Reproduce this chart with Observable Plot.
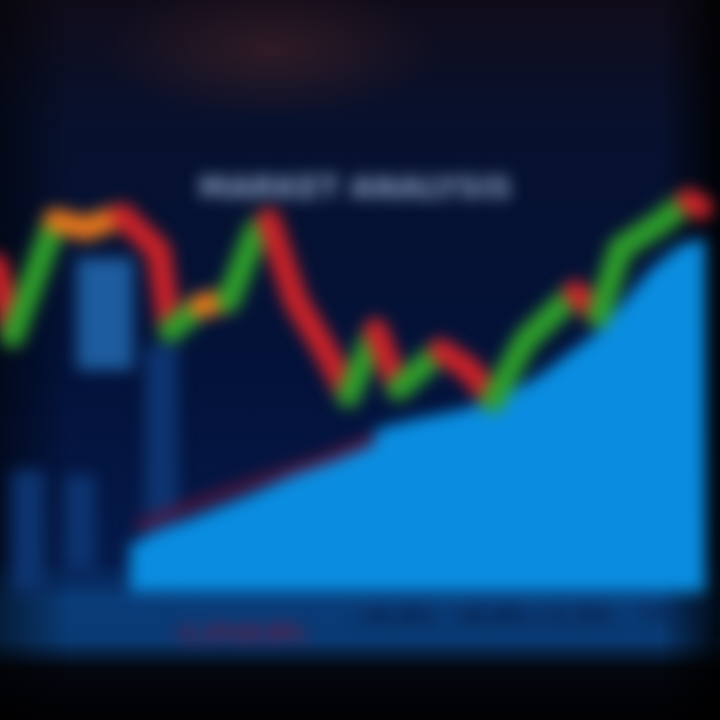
<!DOCTYPE html>
<html><head><meta charset="utf-8">
<script src="https://cdn.jsdelivr.net/npm/d3@7"></script>
<script src="https://cdn.jsdelivr.net/npm/@observablehq/plot@0.6"></script>
<style>
html,body{margin:0;padding:0;width:720px;height:720px;overflow:hidden;}
body{background:
 radial-gradient(ellipse 170px 70px at 270px 50px, rgba(80,40,40,0.5), rgba(80,40,40,0) 100%),
 linear-gradient(to right, rgba(0,0,0,0.5) 0px, rgba(0,0,0,0) 70px, rgba(0,0,0,0) 660px, rgba(0,0,0,0.8) 715px),
 linear-gradient(to bottom, #100c1a 0px, #07112e 130px, #03123a 380px, #051a4a 560px, #0a3c78 600px, #0a3a74 640px, #03070f 668px, #010103 720px);}
#chart{position:absolute;left:0;top:0;}
#chart svg{filter:blur(8px);}
</style>
</head><body>
<div id="chart"></div>
<script>
// Price line (time index, price)
const lineX = [-0.5, 1.2, 5.5, 8.5, 12.2, 15.8, 17.0, 20.0, 22.8, 25.5, 26.8, 28.0, 29.5, 32.5, 34.8, 37.5, 39.8, 44.0, 47.0, 49.2, 52.5, 57.5, 59.8, 62.0, 66.0, 68.8, 70.0];
const lineY = [45.5, 38.5, 50.0, 49.2, 50.5, 47.0, 39.0, 41.5, 42.0, 48.8, 50.0, 46.5, 42.0, 37.0, 32.5, 39.0, 33.2, 37.0, 35.0, 32.0, 38.0, 42.8, 40.5, 47.2, 49.8, 52.0, 51.3];

// Filled area (cumulative index)
const areaX = [13.0, 15.0, 20.0, 25.0, 30.0, 36.0, 38.0, 42.0, 46.0, 50.0, 54.0, 57.0, 60.0, 62.5, 65.0, 68.0, 70.5];
const areaY = [17.5, 18.5, 20.5, 22.5, 24.8, 27.5, 29.2, 30.2, 31.0, 32.2, 34.5, 36.8, 39.0, 42.0, 45.0, 47.5, 48.2];
const areaBase = 12.8;

// Support line above the area
const supportX = [14, 20, 26, 32, 37];
const supportY = [19.5, 21.8, 24.0, 26.0, 28.0];

// Volume bars
const volX1 = [1.2, 6.5, 14.5];
const volX2 = [4.5, 9.5, 17.8];
const volLow = [12.8, 15.0, 12.5];
const volHigh = [25.0, 24.5, 37.5];
const hiX1 = [7.7];
const hiX2 = [13.3];
const hiLow = [35.0];
const hiHigh = [46.2];

// Title annotation
const titleText = ["MARKET ANALYSIS"];
const titleX = [35.5];
const titleY = [53.2];

// Bottom tick labels
const tickX = [20.6, 27.0, 39.5, 49.0, 57.3, 67.5];
const tickLabels = ["-1.2%", "-0.8%", "+0.4%", "+0.9%", "+1.3%", "+2.1%"];
const tickY = [8.7, 8.7, 10.4, 10.4, 10.4, 10.8];

const segments = lineX.slice(1).map((x, i) => {
  const x1 = lineX[i], y1 = lineY[i], y2 = lineY[i + 1];
  const slope = (y2 - y1) / (x - x1);
  const dir = slope > 0.4 ? "up" : slope < -0.4 ? "down" : "flat";
  return {x1, y1, x2: x, y2, dir};
});
const area = areaX.map((x, i) => ({x, y: areaY[i]}));
const support = supportX.map((x, i) => ({x, y: supportY[i]}));
const vol = volX1.map((x1, i) => ({x1, x2: volX2[i], y1: volLow[i], y2: volHigh[i]}));
const hi = hiX1.map((x1, i) => ({x1, x2: hiX2[i], y1: hiLow[i], y2: hiHigh[i]}));
const title = titleText.map((t, i) => ({t, x: titleX[i], y: titleY[i]}));
const ticks = tickLabels.map((t, i) => ({t, x: tickX[i], y: tickY[i], neg: t.startsWith("-")}));

const chart = Plot.plot({
  width: 720, height: 720, margin: 0,
  x: {domain: [0, 72], axis: null},
  y: {domain: [0, 72], axis: null},
  color: {domain: ["up", "flat", "down"], range: ["#2e9f2a", "#e5761c", "#cc2228"]},
  style: {background: "transparent", overflow: "visible"},
  marks: [
    Plot.rect(vol, {x1: "x1", x2: "x2", y1: "y1", y2: "y2", fill: "#0d3470"}),
    Plot.rect(hi, {x1: "x1", x2: "x2", y1: "y1", y2: "y2", fill: "#1d5c9e"}),
    Plot.areaY(area, {x: "x", y1: () => areaBase, y2: "y", fill: "#0a8de0"}),
    Plot.line(support, {x: "x", y: "y", stroke: "#5a1238", strokeWidth: 10}),
    Plot.link(segments, {x1: "x1", y1: "y1", x2: "x2", y2: "y2", stroke: "dir", strokeWidth: 24, strokeLinecap: "round"}),
    Plot.text(title, {x: "x", y: "y", text: "t", fill: "#8aa4c6", fontSize: 30, fontWeight: "bold", fontFamily: "DejaVu Sans"}),
    Plot.text(ticks, {x: "x", y: "y", text: "t", fill: d => d.neg ? "#8a1030" : "#04163a", fontSize: 22, fontWeight: "bold", fontFamily: "DejaVu Sans"})
  ]
});
document.getElementById("chart").append(chart);
</script>
</body></html>
